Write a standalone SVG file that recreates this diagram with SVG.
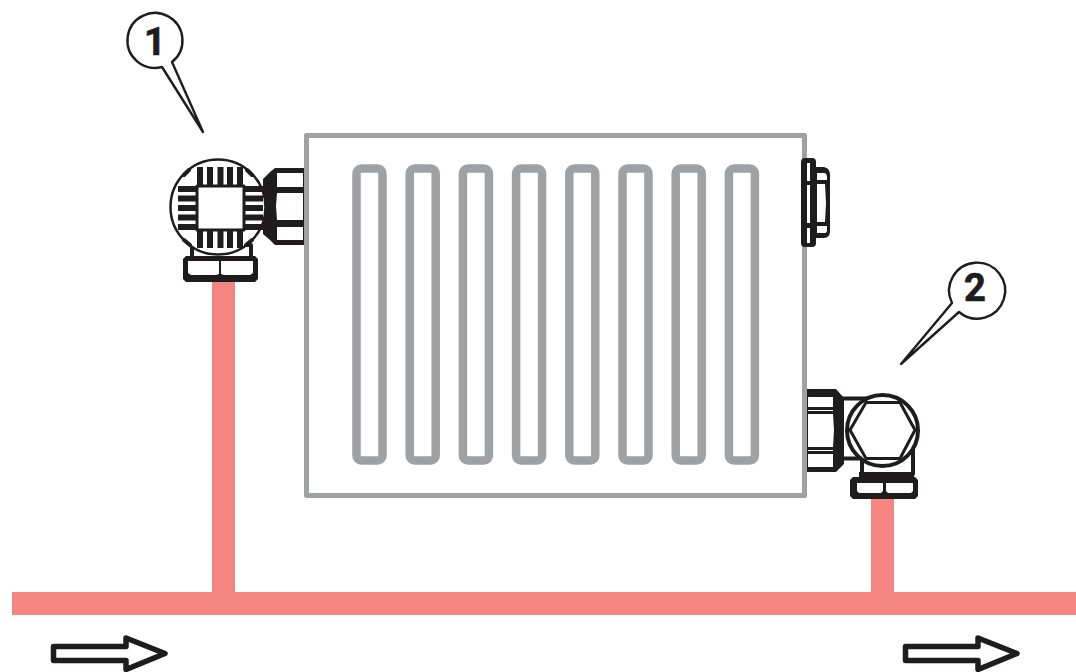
<svg xmlns="http://www.w3.org/2000/svg" xmlns:xlink="http://www.w3.org/1999/xlink" width="1076" height="672" viewBox="0 0 1076 672">
<style>
.pipe{fill:#f68582}
.gr{fill:none;stroke:#a0a1a5;stroke-linejoin:round}
.k{fill:#fff;stroke:#1f1c1d;stroke-linejoin:round}
.n{fill:none;stroke:#1f1c1d;stroke-linejoin:round;stroke-linecap:round}
.s{fill:#1f1c1d}
.w{fill:#fff}
.t{font-family:Roboto,"Liberation Sans",Arial,sans-serif;font-weight:700;font-size:38px;fill:#1f1c1d;stroke:#1f1c1d;stroke-width:.7px;text-anchor:middle}
</style>
<defs>
<rect id="fin" x="356.500" y="168.500" width="26" height="292" rx="5" class="gr" stroke-width="8.500"/>
<path id="flow" d="M53.500 646.500H126V638L165 653.500L126 669.500V660.500H53.500Z" class="k" stroke-width="5.500"/>
</defs>
<g id="connectors">
<rect class="pipe" x="212" y="280" width="23" height="322"/>
<rect class="pipe" x="871" y="495" width="23" height="107"/>
<rect class="pipe" x="12" y="592" width="1064" height="23"/>
</g>
<g id="radiator">
<rect x="306.500" y="135.500" width="498" height="360" class="gr" stroke-width="5"/>
<use xlink:href="#fin"/><use xlink:href="#fin" x="53.200"/><use xlink:href="#fin" x="106.400"/><use xlink:href="#fin" x="159.600"/>
<use xlink:href="#fin" x="212.800"/><use xlink:href="#fin" x="266"/><use xlink:href="#fin" x="319.200"/><use xlink:href="#fin" x="372.400"/>
</g>
<g id="valve-1">
<path class="k" stroke-width="4" d="M192 245V258H251V245Z"/>
<path class="s" d="M186 256H255L258 259V279L255 282H186L183 279V259Z"/>
<path class="w" d="M188 261H219V274L216 275H191L188 273ZM221 261H253V273L250 275H224L221 274Z"/>
<path class="s" d="M263 179L270 172L275 168H304V245H275L270 240L263 234Z"/>
<path class="w" d="M277 173H303V187H277ZM277 193H303V220H277L276 206ZM277 227H303V240H277Z"/>
<path class="n" stroke-width="1" d="M277 190H303M277 223.500H303" stroke="#777"/>
<circle cx="218" cy="207" r="47.500" fill="#fff" stroke="#1f1c1d" stroke-width="2.500"/>
<path class="n" stroke-width="4" d="M184 175L189 170M252 175L247 170M184 240L190 245M252 240L246 245"/>
<g class="s">
<rect x="197" y="167" width="6" height="19"/><rect x="207" y="167" width="6" height="19"/><rect x="217.500" y="167" width="6" height="19"/><rect x="227" y="167" width="6" height="19"/><rect x="237" y="167" width="6" height="19"/>
<rect x="197" y="229" width="6" height="19"/><rect x="207" y="229" width="6" height="19"/><rect x="217.500" y="229" width="6" height="19"/><rect x="227" y="229" width="6" height="19"/><rect x="237" y="229" width="6" height="19"/>
<rect x="178" y="186" width="20" height="6"/><rect x="178" y="195.500" width="20" height="6"/><rect x="178" y="205" width="20" height="6"/><rect x="178" y="214.500" width="20" height="6"/><rect x="178" y="224" width="20" height="6"/>
<rect x="243" y="186" width="20" height="6"/><rect x="243" y="195.500" width="20" height="6"/><rect x="243" y="205" width="20" height="6"/><rect x="243" y="214.500" width="20" height="6"/><rect x="243" y="224" width="20" height="6"/>
</g>
<rect x="197" y="186" width="47" height="44" class="k" stroke-width="3"/>
</g>
<g id="vent">
<rect x="801" y="158" width="15" height="89" rx="4" class="s"/>
<path class="w" d="M807 163H810V181H807ZM807 185H810V223H807ZM807 228H810V243H807Z"/>
<path class="s" d="M815 167H824Q830 168 830 175V231Q830 238 824 238H815Z"/>
<path class="w" d="M817 173H825Q827 174 827 177V180H817ZM817 184H825L826 203L825 222H817ZM817 226H827V230Q827 233 825 233H817Z"/>
</g>
<g id="valve-2">
<path class="n" stroke-width="4" d="M843 398.500H872M843 458.500H862V474M913 445V474"/>
<path class="s" d="M807 389H836L844 398V464L836 472H807Z"/>
<path class="w" d="M808 397H833V407H808ZM808 410H833V411H808ZM808 414H833L834 430L833 447L808 447ZM808 450H833V451H808ZM808 454H833V467H808Z"/>
<circle cx="882.500" cy="430.500" r="35.500" fill="#fff" stroke="#1f1c1d" stroke-width="4"/>
<path class="k" stroke-width="3" d="M850 430L866 402.500H900L915 430L900 458.500H866Z"/>
<rect x="859" y="472" width="55" height="9" class="s"/>
<path class="s" d="M853 477H915L918 480V496L915 499H853L850 496V480Z"/>
<path class="w" d="M857 483H883V491L881 493H859L857 491ZM886 483H913V491L911 493H888L886 491Z"/>
</g>
<g id="callout-1">
<path class="k" stroke-width="2.400" d="M172 62A27.500 27.500 0 1 0 162 67L203 132Z"/>
<text class="t" x="155" y="55">1</text>
</g>
<g id="callout-2">
<path class="k" stroke-width="2.400" d="M952 303A28 28 0 1 1 959 312L901 364Z"/>
<text class="t" x="975" y="301">2</text>
</g>
<g id="flow-arrows">
<use xlink:href="#flow"/>
<use xlink:href="#flow" x="852"/>
</g>
</svg>
